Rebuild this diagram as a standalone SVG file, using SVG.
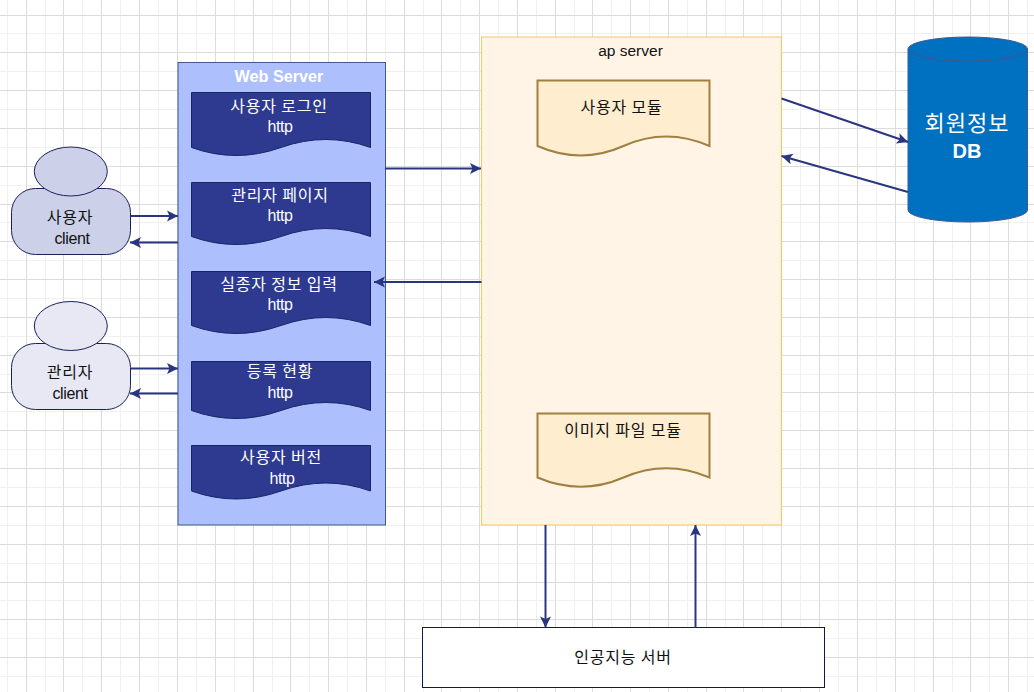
<svg xmlns="http://www.w3.org/2000/svg" width="1034" height="692" viewBox="0 0 1034 692">
<style>
.k{font-family:"Noto Sans CJK KR","Liberation Sans",sans-serif;font-size:16px;text-anchor:middle;letter-spacing:.8px}
.e{font-family:"Liberation Sans",Arial,sans-serif;font-size:16px;text-anchor:middle;letter-spacing:-.4px}
.w{fill:#fff}.d{fill:#111}
.doc{fill:#2d3a8f;stroke:#1a2466;stroke-width:1}
.mod{fill:#ffedcf;stroke:#9f8040;stroke-width:2}
.a{fill:none;stroke:#2a3580;stroke-width:2;marker-end:url(#ah)}
</style>
<defs>
<marker id="ah" markerUnits="userSpaceOnUse" markerWidth="14" markerHeight="14" refX="12" refY="7" orient="auto"><path d="M1,1.500 L12,7 L1,12.500 L3.500,7 Z" fill="#2a3580"/></marker>
</defs>
<rect width="1034" height="692" fill="#fff"/>
<g id="grid" fill="none">
<path stroke="#f0f0f0" d="M7.500,0V692M45.500,0V692M82.500,0V692M120.500,0V692M158.500,0V692M196.500,0V692M234.500,0V692M272.500,0V692M309.500,0V692M347.500,0V692M385.500,0V692M423.500,0V692M460.500,0V692M498.500,0V692M536.500,0V692M574.500,0V692M611.500,0V692M649.500,0V692M687.500,0V692M725.500,0V692M762.500,0V692M800.500,0V692M838.500,0V692M876.500,0V692M914.500,0V692M952.500,0V692M989.500,0V692M1027.500,0V692M0,33.500H1034M0,71.500H1034M0,109.500H1034M0,147.500H1034M0,185.500H1034M0,222.500H1034M0,260.500H1034M0,298.500H1034M0,336.500H1034M0,374.500H1034M0,411.500H1034M0,449.500H1034M0,487.500H1034M0,525.500H1034M0,563.500H1034M0,600.500H1034M0,638.500H1034M0,676.500H1034"/>
<path stroke="#dcdcdc" d="M26.500,0V692M63.500,0V692M101.500,0V692M139.500,0V692M177.500,0V692M215.500,0V692M253.500,0V692M290.500,0V692M328.500,0V692M366.500,0V692M404.500,0V692M441.500,0V692M479.500,0V692M517.500,0V692M555.500,0V692M592.500,0V692M630.500,0V692M668.500,0V692M706.500,0V692M743.500,0V692M781.500,0V692M819.500,0V692M857.500,0V692M895.500,0V692M933.500,0V692M970.500,0V692M1008.500,0V692M0,15.500H1034M0,52.500H1034M0,90.500H1034M0,128.500H1034M0,166.500H1034M0,204.500H1034M0,241.500H1034M0,279.500H1034M0,317.500H1034M0,355.500H1034M0,392.500H1034M0,430.500H1034M0,468.500H1034M0,506.500H1034M0,544.500H1034M0,582.500H1034M0,619.500H1034M0,657.500H1034"/>
</g>
<g id="web-server">
<rect x="178" y="62.500" width="207.500" height="462.500" fill="#adbffd" stroke="#3d5a8c"/>
<text x="279" y="82" font-family="Liberation Sans,Arial,sans-serif" font-size="16.200" font-weight="700" fill="#fff" text-anchor="middle">Web Server</text>
</g>
<g id="doc-login"><path class="doc" d="M191.500,92.500H370.500V147.500Q326,131.500 281,147.500T191.500,147.500Z"/><text class="k w" x="279" y="111.500">사용자 로그인</text><text class="e w" x="280" y="132">http</text></g>
<g id="doc-admin"><path class="doc" d="M191.500,182.500H370.500V236.500Q326,220.500 281,236.500T191.500,236.500Z"/><text class="k w" x="280" y="200.500">관리자 페이지</text><text class="e w" x="280" y="221">http</text></g>
<g id="doc-input"><path class="doc" d="M191.500,271.500H370.500V325.500Q326,309.500 281,325.500T191.500,325.500Z"/><text class="k w" x="279" y="289.500">실종자 정보 입력</text><text class="e w" x="280" y="310">http</text></g>
<g id="doc-status"><path class="doc" d="M191.500,361.500H370.500V410.500Q326,394.500 281,410.500T191.500,410.500Z"/><text class="k w" x="280" y="377">등록 현황</text><text class="e w" x="280" y="398">http</text></g>
<g id="doc-version"><path class="doc" d="M191.500,445.500H370.500V491Q326,475 281,491T191.500,491Z"/><text class="k w" x="281" y="463">사용자 버전</text><text class="e w" x="282" y="484">http</text></g>
<g id="user">
<rect x="11.500" y="188.500" width="119" height="66" rx="24" fill="#ccd0e8" stroke="#1a2255"/>
<ellipse cx="70.800" cy="171.500" rx="36.500" ry="24.500" fill="#ccd0e8" stroke="#1a2255"/>
<text class="k d" x="70" y="223">사용자</text><text class="e d" x="72" y="244">client</text>
</g>
<g id="admin">
<rect x="11.500" y="343.500" width="119" height="66" rx="24" fill="#e7e8f4" stroke="#1a2255"/>
<ellipse cx="70.800" cy="326" rx="36.500" ry="24.500" fill="#e7e8f4" stroke="#1a2255"/>
<text class="k d" x="70" y="378">관리자</text><text class="e d" x="70" y="399">client</text>
</g>
<g id="ap-server">
<rect x="481.500" y="37" width="300" height="488" fill="#fff4e6" stroke="#f7c860"/>
<text x="630.500" y="56" font-family="Liberation Sans,Arial,sans-serif" font-size="15.500" fill="#111" text-anchor="middle">ap server</text>
</g>
<g id="module-user"><path class="mod" d="M537.500,80.500H709.500V146Q666,127 623.500,146T537.500,146Z"/><text class="k d" x="621.500" y="112.500">사용자 모듈</text></g>
<g id="module-image"><path class="mod" d="M537.500,413.500H709.500V477.500Q666,459 623.500,477.500T537.500,477.500Z"/><text class="k d" x="623" y="435.500">이미지 파일 모듈</text></g>
<g id="db">
<path d="M908,49V210A59.750,12 0 0 0 1027.500,210V49Z" fill="#0070c0" stroke="#3d5a8c"/>
<ellipse cx="967.750" cy="49" rx="59.750" ry="12" fill="#0070c0" stroke="#3d5a8c"/>
<text x="967" y="131" font-family="Noto Sans CJK KR,sans-serif" font-size="22" fill="#fff" text-anchor="middle" letter-spacing="1">회원정보</text>
<text x="967" y="158" font-family="Liberation Sans,Arial,sans-serif" font-size="20" font-weight="700" fill="#fff" text-anchor="middle">DB</text>
</g>
<g id="ai-server">
<rect x="422.500" y="627.500" width="402" height="60" fill="#fff" stroke="#10184d"/>
<text class="k d" x="623" y="662.500">인공지능 서버</text>
</g>
<g id="connectors">
<path class="a" d="M131,216H178"/>
<path class="a" d="M178,242.500H130"/>
<path class="a" d="M131,368.500H178"/>
<path class="a" d="M178,393.500H130"/>
<path class="a" d="M385,168.500H481"/>
<path class="a" d="M481.500,282H374"/>
<path class="a" d="M781.500,98.500L908,142"/>
<path class="a" d="M908,192L781.500,156"/>
<path class="a" d="M545.500,525V627.500"/>
<path class="a" d="M695.500,627.500V525"/>
</g>
</svg>
